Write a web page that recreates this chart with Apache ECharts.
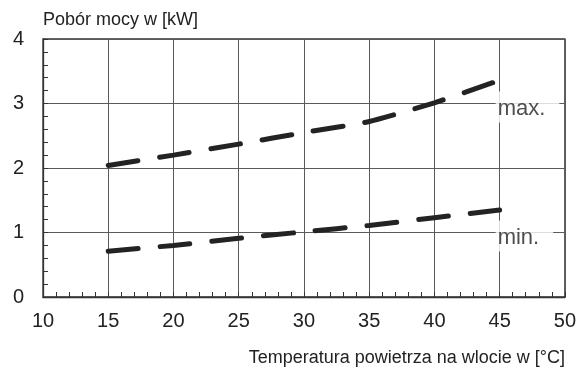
<!DOCTYPE html>
<html>
<head>
<meta charset="utf-8">
<script src="https://cdn.jsdelivr.net/npm/echarts@6/dist/echarts.min.js"></script>
<style>
  html, body { margin: 0; padding: 0; background: #fff; }
  #chart { width: 579px; height: 372px; }
</style>
</head>
<body>
<div id="chart"></div>
<script>
// Inlet air temperature [°C]
const temperatures = [15, 20, 25, 30, 35, 40, 45];
// Power consumption [kW] at maximum and minimum output
const powerMax = [2.04, 2.20, 2.37, 2.55, 2.72, 3.01, 3.36];
const powerMin = [0.71, 0.80, 0.91, 1.01, 1.11, 1.23, 1.35];
// Curve labels, anchored at the right end of the curves
const curveLabels = [
  { text: 'max.', at: [45, 3] },
  { text: 'min.', at: [45, 1] }
];
const yAxisTitle = 'Pobór mocy w [kW]';
const xAxisTitle = 'Temperatura powietrza na wlocie w [°C]';

const FONT = '"Liberation Sans", Arial, sans-serif';
const INK = '#222';

const pairs = (xs, ys) => xs.map((x, i) => [x, ys[i]]);

const dashedCurve = (data) => ({
  type: 'line',
  data,
  symbol: 'none',
  smooth: 0.15,
  lineStyle: { color: '#232323', width: 5, type: [30, 22], cap: 'round' },
  z: 3,
  silent: true
});

const chart = echarts.init(document.getElementById('chart'), null, { renderer: 'canvas' });
chart.setOption({
  animation: false,
  backgroundColor: '#fff',
  title: [
    { text: yAxisTitle, left: 43, top: 11, padding: 0,
      textStyle: { fontFamily: FONT, fontSize: 18, fontWeight: 'normal', color: INK } },
    { text: xAxisTitle, right: 14, top: 349, padding: 0,
      textStyle: { fontFamily: FONT, fontSize: 18, fontWeight: 'normal', color: INK } }
  ],
  grid: { left: 43, right: 14, top: 39, bottom: 75, show: true, borderColor: '#333', borderWidth: 1.3 },
  xAxis: {
    type: 'value', min: 10, max: 50, interval: 5,
    axisLine: { lineStyle: { color: '#333', width: 1.3 } },
    axisTick: { show: true, inside: true, length: 5, lineStyle: { color: '#333' } },
    minorTick: { show: true, splitNumber: 5, length: 5, lineStyle: { color: '#333' } },
    axisLabel: { fontFamily: FONT, fontSize: 20, color: INK, margin: 14 },
    splitLine: { lineStyle: { color: '#5a5a5a', width: 1 } }
  },
  yAxis: {
    type: 'value', min: 0, max: 4, interval: 1,
    axisLine: { show: true, lineStyle: { color: '#333', width: 1.3 } },
    axisTick: { show: true, inside: true, length: 5, lineStyle: { color: '#333' } },
    minorTick: { show: true, splitNumber: 5, length: 5, lineStyle: { color: '#333' } },
    axisLabel: { fontFamily: FONT, fontSize: 20, color: INK, margin: 19 },
    splitLine: { lineStyle: { color: '#5a5a5a', width: 1 } }
  },
  series: [
    dashedCurve(pairs(temperatures, powerMax)),
    dashedCurve(pairs(temperatures, powerMin)),
    {
      type: 'scatter',
      symbolSize: 0,
      silent: true,
      z: 4,
      data: curveLabels.map(c => ({ value: c.at, name: c.text })),
      label: {
        show: true,
        position: [-4, -12],
        formatter: p => p.name,
        fontFamily: FONT, fontSize: 22, color: INK,
        lineHeight: 22,
        backgroundColor: '#fff',
        padding: [6, 14, 3, 2]
      }
    }
  ]
});
</script>
</body>
</html>
